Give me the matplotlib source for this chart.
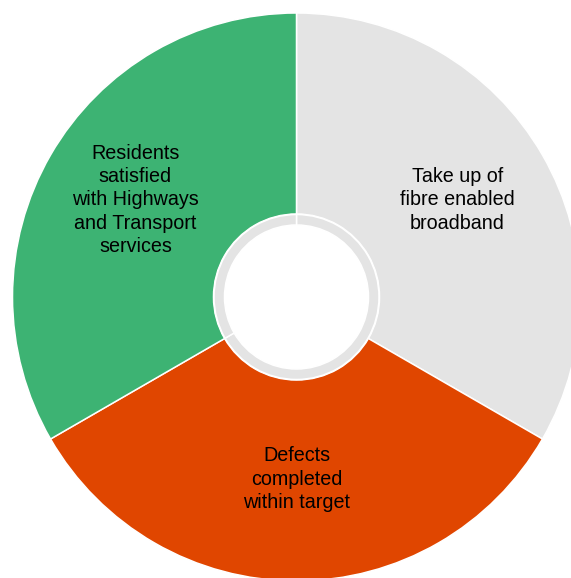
import matplotlib
matplotlib.use("Agg")
import matplotlib.pyplot as plt

# outer ring, clockwise from the top
labels = ["Take up of\nfibre enabled\nbroadband",
          "Defects\ncompleted\nwithin target",
          "Residents\nsatisfied\nwith Highways\nand Transport\nservices"]
values = [1, 1, 1]
colors = ["#e4e4e4", "#e04600", "#3db373"]

# thin inner ring
ring_values = [2, 1]
ring_colors = ["#e4e4e4", "#e4e4e4"]

W, H = 571, 578
fig = plt.figure(figsize=(W / 100, H / 100), dpi=100)
ax = fig.add_axes([0, 0, 1, 1])

cx, cy = 296.5, H - 297
R = 284

wedges, texts = ax.pie(values, labels=labels, colors=colors, startangle=90,
                       counterclock=False, radius=R, center=(cx, cy),
                       labeldistance=0.655,
                       wedgeprops=dict(width=R - 83, edgecolor="white", linewidth=1.1),
                       textprops=dict(fontsize=14.2, family="Liberation Sans",
                                      color="black", linespacing=1.27))
for t in texts:
    t.set_ha("center")
    t.set_va("center")
    x, y = t.get_position()
    t.set_position((x, y + 4))

ax.pie(ring_values, colors=ring_colors, startangle=90, counterclock=False,
       radius=82.5, center=(cx, cy),
       wedgeprops=dict(width=10.5, edgecolor="white", linewidth=1.1))

ax.set_xlim(0, W)
ax.set_ylim(0, H)
ax.set_aspect("equal")
ax.axis("off")

fig.savefig("out.png", dpi=100, facecolor="white")
